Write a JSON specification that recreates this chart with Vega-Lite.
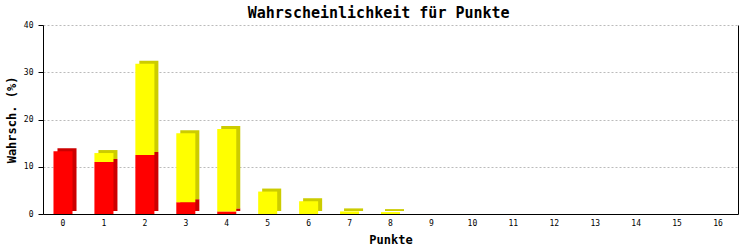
{
  "$schema": "https://vega.github.io/schema/vega-lite/v6.json",
  "width": 695,
  "height": 189,
  "autosize": {"type": "none"},
  "padding": {"left": 43, "top": 25, "right": 15, "bottom": 36},
  "background": "#ffffff",
  "title": {
    "text": "Wahrscheinlichkeit für Punkte",
    "font": "DejaVu Sans Mono",
    "fontSize": 15,
    "fontWeight": "bold",
    "color": "#000000",
    "anchor": "middle",
    "frame": "bounds",
    "offset": 0,
    "dx": 7
  },
  "data": {
    "values": [
      {"Punkte": 0, "Teil": "rot", "Reihe": 1, "Wert": 13.3},
      {"Punkte": 0, "Teil": "gelb", "Reihe": 2, "Wert": 0},
      {"Punkte": 1, "Teil": "rot", "Reihe": 1, "Wert": 11.0},
      {"Punkte": 1, "Teil": "gelb", "Reihe": 2, "Wert": 1.9},
      {"Punkte": 2, "Teil": "rot", "Reihe": 1, "Wert": 12.5},
      {"Punkte": 2, "Teil": "gelb", "Reihe": 2, "Wert": 19.3},
      {"Punkte": 3, "Teil": "rot", "Reihe": 1, "Wert": 2.5},
      {"Punkte": 3, "Teil": "gelb", "Reihe": 2, "Wert": 14.6},
      {"Punkte": 4, "Teil": "rot", "Reihe": 1, "Wert": 0.55},
      {"Punkte": 4, "Teil": "gelb", "Reihe": 2, "Wert": 17.45},
      {"Punkte": 5, "Teil": "rot", "Reihe": 1, "Wert": 0},
      {"Punkte": 5, "Teil": "gelb", "Reihe": 2, "Wert": 4.75},
      {"Punkte": 6, "Teil": "rot", "Reihe": 1, "Wert": 0},
      {"Punkte": 6, "Teil": "gelb", "Reihe": 2, "Wert": 2.7},
      {"Punkte": 7, "Teil": "rot", "Reihe": 1, "Wert": 0},
      {"Punkte": 7, "Teil": "gelb", "Reihe": 2, "Wert": 0.55},
      {"Punkte": 8, "Teil": "rot", "Reihe": 1, "Wert": 0},
      {"Punkte": 8, "Teil": "gelb", "Reihe": 2, "Wert": 0.4},
      {"Punkte": 9, "Teil": "rot", "Reihe": 1, "Wert": 0},
      {"Punkte": 9, "Teil": "gelb", "Reihe": 2, "Wert": 0},
      {"Punkte": 10, "Teil": "rot", "Reihe": 1, "Wert": 0},
      {"Punkte": 10, "Teil": "gelb", "Reihe": 2, "Wert": 0},
      {"Punkte": 11, "Teil": "rot", "Reihe": 1, "Wert": 0},
      {"Punkte": 11, "Teil": "gelb", "Reihe": 2, "Wert": 0},
      {"Punkte": 12, "Teil": "rot", "Reihe": 1, "Wert": 0},
      {"Punkte": 12, "Teil": "gelb", "Reihe": 2, "Wert": 0},
      {"Punkte": 13, "Teil": "rot", "Reihe": 1, "Wert": 0},
      {"Punkte": 13, "Teil": "gelb", "Reihe": 2, "Wert": 0},
      {"Punkte": 14, "Teil": "rot", "Reihe": 1, "Wert": 0},
      {"Punkte": 14, "Teil": "gelb", "Reihe": 2, "Wert": 0},
      {"Punkte": 15, "Teil": "rot", "Reihe": 1, "Wert": 0},
      {"Punkte": 15, "Teil": "gelb", "Reihe": 2, "Wert": 0},
      {"Punkte": 16, "Teil": "rot", "Reihe": 1, "Wert": 0},
      {"Punkte": 16, "Teil": "gelb", "Reihe": 2, "Wert": 0}
    ]
  },
  "encoding": {
    "x": {
      "field": "Punkte",
      "type": "ordinal",
      "sort": "ascending",
      "scale": {"paddingInner": 0.535, "paddingOuter": 0.256},
      "axis": {
        "title": "Punkte",
        "labelAngle": 0,
        "ticks": false,
        "labelPadding": 5,
        "titlePadding": 7,
        "domainColor": "#000000",
        "domainWidth": 1
      }
    },
    "y": {
      "field": "Wert",
      "type": "quantitative",
      "stack": "zero",
      "scale": {"domain": [0, 40], "nice": false}
    },
    "order": {"field": "Reihe", "type": "quantitative"}
  },
  "layer": [
    {
      "mark": {"type": "bar", "xOffset": 4, "yOffset": -3},
      "encoding": {
        "y": {
          "field": "Wert",
          "type": "quantitative",
          "stack": "zero",
          "scale": {"domain": [0, 40], "nice": false},
          "axis": {
            "orient": "left",
            "title": "Wahrsch. (%)",
            "values": [0, 10, 20, 30, 40],
            "tickSize": 5,
            "tickColor": "#000000",
            "labelPadding": 5,
            "titlePadding": 5,
            "domainColor": "#000000",
            "grid": true,
            "gridColor": "#bbbbbb",
            "gridDash": [2, 2]
          }
        },
        "color": {
          "field": "Teil",
          "type": "nominal",
          "scale": {"domain": ["rot", "gelb"], "range": ["#cc0000", "#cccc00"]},
          "legend": null
        }
      }
    },
    {
      "mark": {"type": "bar"},
      "encoding": {
        "y": {
          "field": "Wert",
          "type": "quantitative",
          "stack": "zero",
          "scale": {"domain": [0, 40], "nice": false},
          "axis": {
            "orient": "right",
            "title": null,
            "labels": false,
            "ticks": false,
            "grid": false,
            "domainColor": "#000000"
          }
        },
        "color": {
          "field": "Teil",
          "type": "nominal",
          "scale": {"domain": ["rot", "gelb"], "range": ["#ff0000", "#ffff00"]},
          "legend": null
        }
      }
    }
  ],
  "resolve": {"scale": {"color": "independent"}, "axis": {"y": "independent"}},
  "config": {
    "view": {"stroke": null},
    "axis": {
      "labelFont": "DejaVu Sans Mono",
      "labelFontSize": 8,
      "labelColor": "#000000",
      "titleFont": "DejaVu Sans Mono",
      "titleFontSize": 12,
      "titleFontWeight": "bold",
      "titleColor": "#000000"
    },
    "axisX": {"grid": false}
  }
}
